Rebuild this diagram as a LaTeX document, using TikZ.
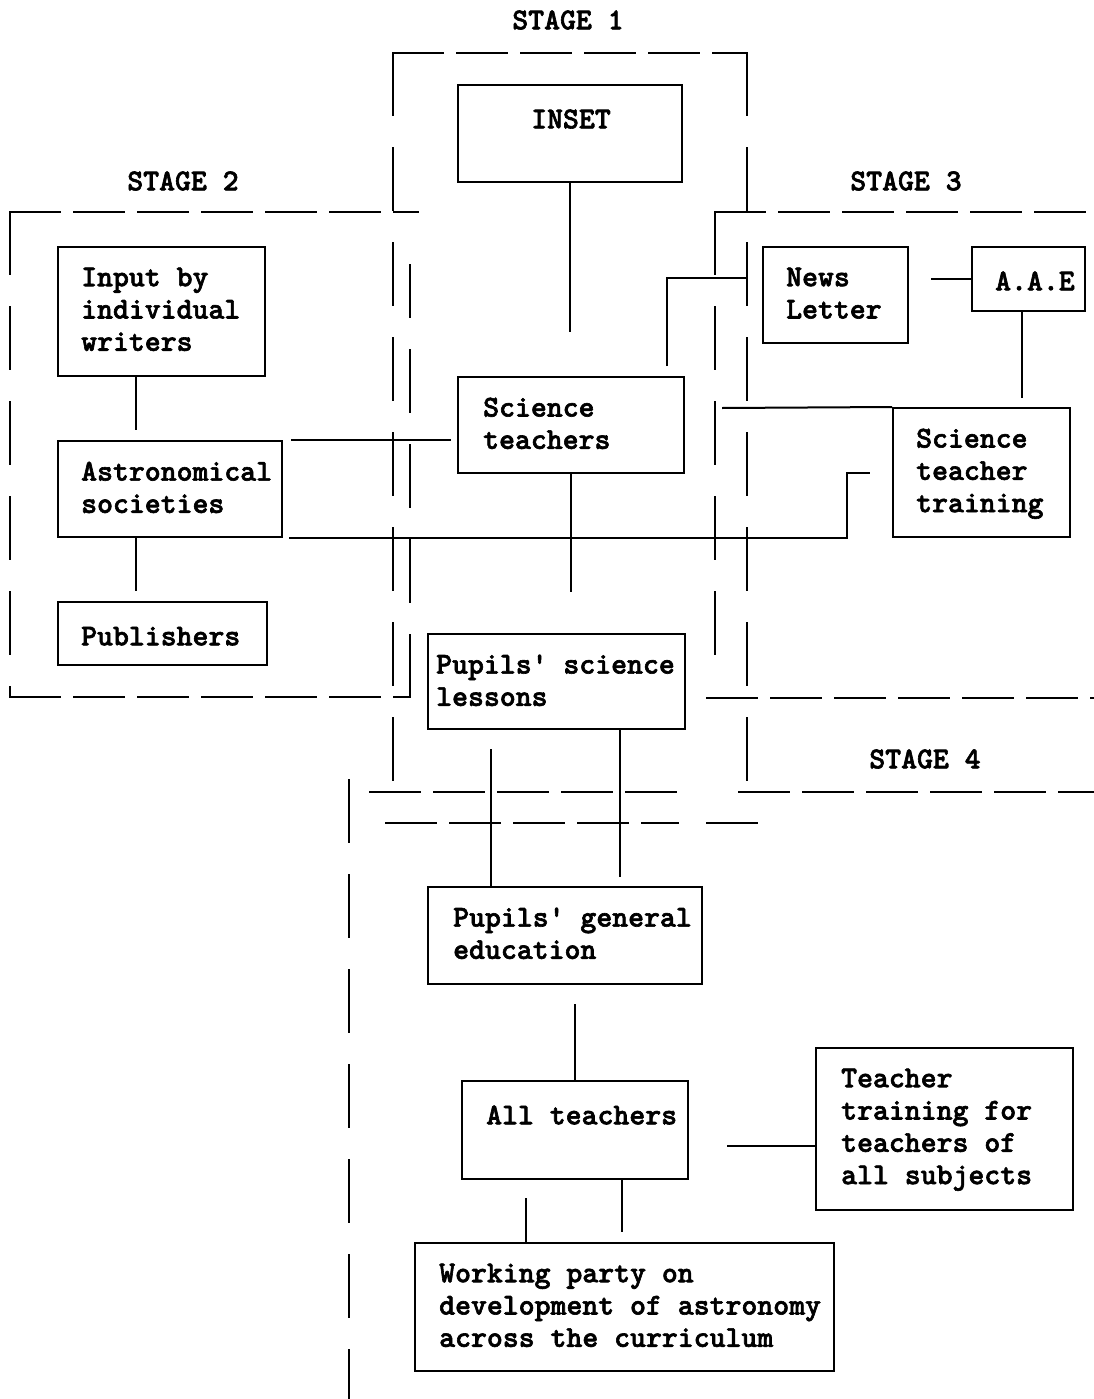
\documentclass[tikz,border=0pt]{standalone}
\usepackage{fontspec}
\newfontfamily\typew[FakeBold=2]{lmmonolt10-bold.otf}
\tikzset{
  box/.style={draw, rectangle, line width=2pt, inner sep=0pt},
  txt/.style={font=\typew\fontsize{30.3}{32.3}\selectfont, align=left, inner sep=0pt},
  boxtxt/.style={txt, anchor=north west, execute at begin node=\strut},
  link/.style={line width=2pt},
  hdash/.style={line width=2.2pt, line cap=rect, dash pattern=on 50pt off 14pt},
  vdash/.style={line width=2.2pt, line cap=rect, dash pattern=on 62pt off 33pt},
}
% box from corners, text set from the top left corner
\newcommand{\stbox}[7][24]{%
  \node[box, minimum width={(#5)-(#3)}, minimum height={(#6)-(#4)}] (#2) at ({((#3)+(#5))/2},{((#4)+(#6))/2}) {};
  \node[boxtxt] (#2-t) at ([shift={(#1,21.5)}]#2.north west) {#7};}
\begin{document}
\begin{tikzpicture}[x=1pt,y=-1pt]
  \useasboundingbox (0,0) rectangle (1094,1399);
  % stage frames
  \draw[hdash] (393,53) -- (747,53);
  \draw[vdash] (393,53) -- (393,783);
  \draw[vdash] (747,53) -- (747,783);
  \draw[hdash] (370,792) -- (678,792);
  \draw[hdash] (10,212) -- (418,212);
  \draw[vdash] (10,212) -- (10,697);
  \draw[hdash] (10,697) -- (410,697);
  \draw[vdash] (410,697) -- (410,265);
  \draw[hdash] (715,212) -- (1094,212);
  \draw[vdash] (715,212) -- (715,657);
  \draw[hdash] (707,698) -- (1094,698);
  \draw[hdash] (739,792) -- (1094,792);
  \draw[hdash] (386,823) -- (678,823);
  \draw[hdash] (707,823) -- (759,823);
  \draw[vdash] (349,780) -- (349,1399);
  \node[txt] (st1) at (568,20) {STAGE 1};
  \node[txt] (st2) at (183,181) {STAGE 2};
  \node[txt] (st3) at (906,181) {STAGE 3};
  \node[txt] (st4) at (925,759) {STAGE 4};
  % boxes
  \stbox[74]{inset}{458}{85}{682}{182}{INSET}
  \stbox{inp}{58}{247}{265}{376}{Input by\\individual\\writers}
  \stbox{ast}{58}{441}{282}{537}{Astronomical\\societies}
  \stbox{pub}{58}{602}{267}{665}{Publishers}
  \stbox[26]{sci}{458}{377}{684}{473}{Science\\teachers}
  \stbox{nl}{763}{247}{908}{343}{News\\Letter}
  \stbox{aae}{972}{247}{1085}{311}{A.A.E}
  \stbox{stt}{893}{408}{1070}{537}{Science\\teacher\\training}
  \stbox[9]{psl}{428}{634}{685}{729}{Pupils' science\\lessons}
  \stbox[26]{pge}{428}{887}{702}{984}{Pupils' general\\education}
  \stbox[25]{at}{462}{1081}{688}{1179}{All teachers}
  \stbox[26]{tt}{816}{1048}{1073}{1210}{Teacher\\training for\\teachers of\\all subjects}
  \stbox[25]{wp}{415}{1243}{834}{1371}{Working party on\\development of astronomy\\across the curriculum}
  % connection points
  \coordinate (inpfoot) at ([xshift=79pt]inp.south west);
  \coordinate (asthead) at ([xshift=79pt]ast.north west);
  \coordinate (astfoot) at ([xshift=79pt]ast.south west);
  \coordinate (pubhead) at ([xshift=79pt]pub.north west);
  \coordinate (scitop) at ([xshift=-18pt]sci.north east);
  \coordinate (nlin) at ([yshift=-32pt]nl.north west);
  \coordinate (aaefoot) at ([xshift=-7pt]aae.south);
  \coordinate (s3gap) at (722,408);
  \coordinate (pslr) at ([xshift=193pt]psl.south west);
  \coordinate (psll) at ([xshift=64pt]psl.south west);
  \coordinate (ttin) at ([yshift=-17pt]tt.west);
  \coordinate (atl) at ([xshift=65pt]at.south west);
  \coordinate (atr) at ([xshift=161pt]at.south west);
  % connectors
  \draw[link, shorten >=44pt] (inset.south) -- (inset.south |- sci.north);
  \draw[link, shorten >=10pt] (inpfoot) -- (asthead);
  \draw[link, shorten >=10pt] (astfoot) -- (pubhead);
  \draw[link, shorten <=8pt, shorten >=6pt] (ast.north east) -- (ast.north east -| sci.west);
  \draw[link, shorten <=6pt, shorten >=22pt] (ast.south east) -- ++(564,0) |- (stt.west);
  \draw[link, shorten >=41pt] (sci.south) -- (sci.south |- psl.north);
  \draw[link, shorten <=10pt, shorten >=16pt] (scitop) |- (nlin);
  \draw[link, shorten <=22pt] (nl.east |- aae.west) -- (aae.west);
  \draw[link, shorten >=9pt] (aaefoot) -- (aaefoot |- stt.north);
  \draw[link] (stt.north west) -- (s3gap);
  \draw[link, shorten >=9pt] (pslr) -- (pslr |- pge.north);
  \draw[link, shorten <=19pt] (psll) -- (psll |- pge.north);
  \draw[link, shorten <=19pt] (pge.south -| at.north) -- (at.north);
  \draw[link, shorten <=38pt] (ttin -| at.east) -- (ttin);
  \draw[link, shorten <=18pt] (atl) -- (atl |- wp.north);
  \draw[link, shorten >=10pt] (atr) -- (atr |- wp.north);
\end{tikzpicture}
\end{document}
